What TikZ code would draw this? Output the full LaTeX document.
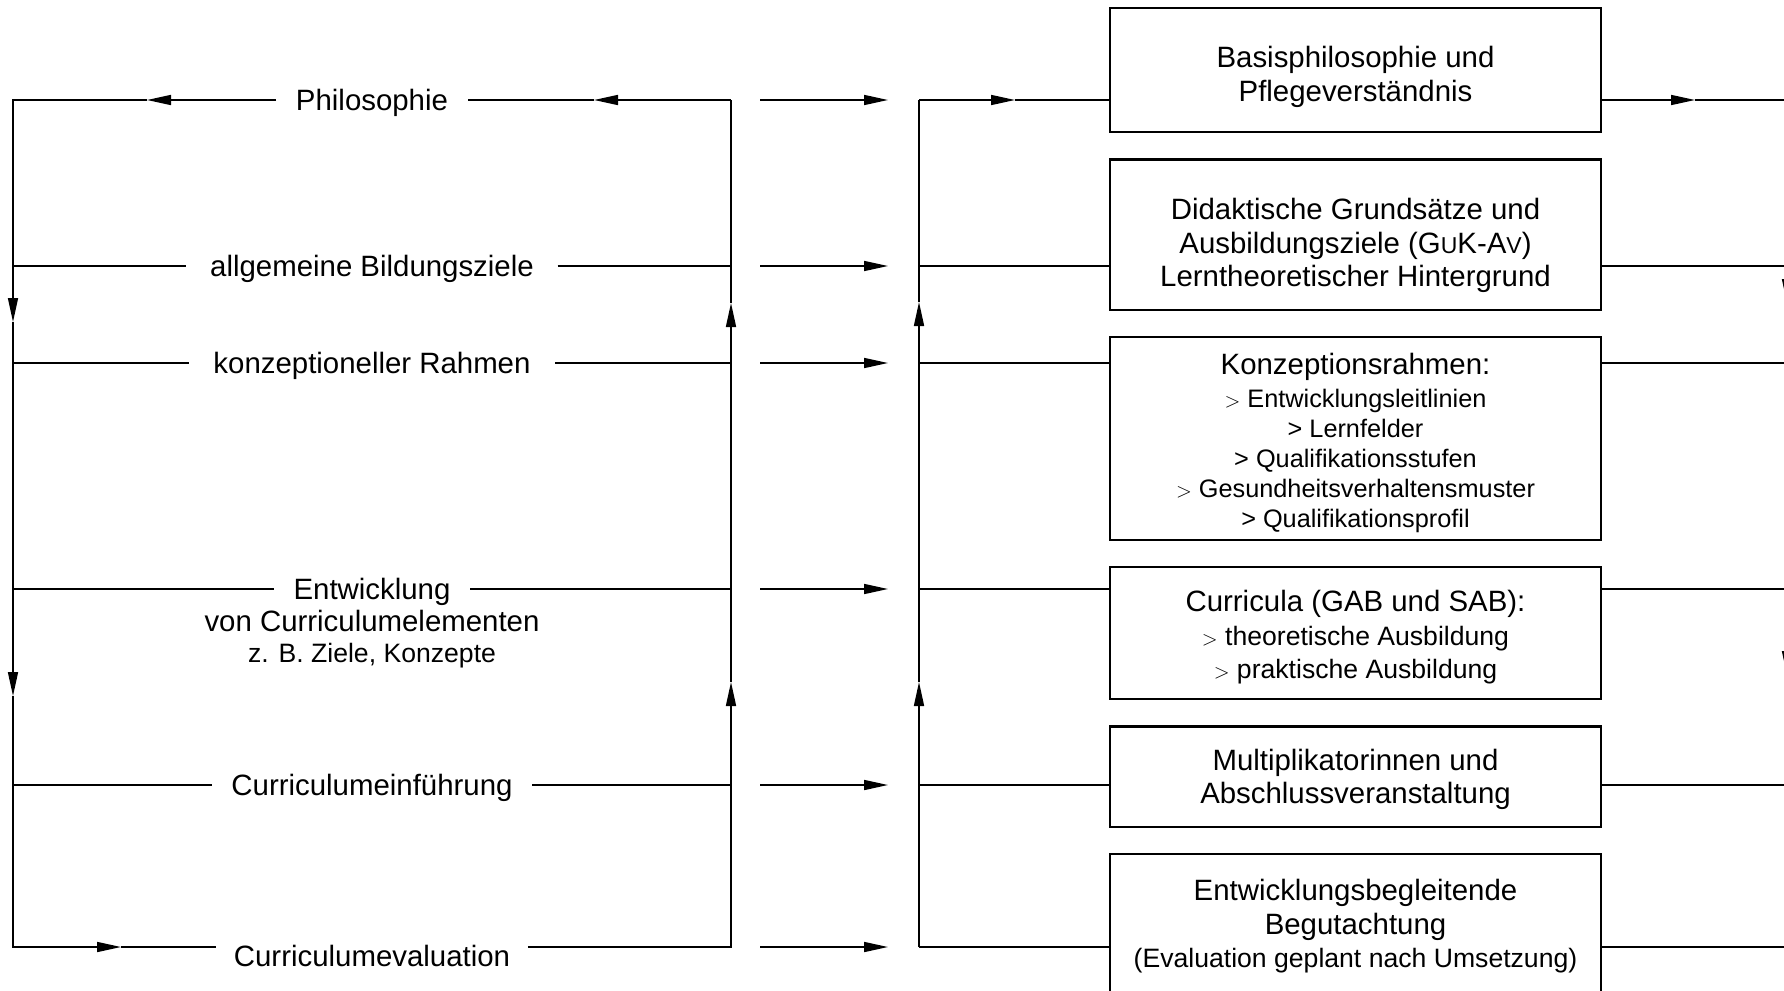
\documentclass[tikz,border=0pt]{standalone}
\usepackage{fontspec}
\setmainfont{Liberation Sans}
\usetikzlibrary{positioning,arrows.meta}

\newcommand\bigsz{\fontsize{29.4}{33.5}\selectfont}
\newcommand\midsz{\fontsize{26.6}{33.5}\selectfont}
\newcommand\smallsz{\fontsize{25.3}{30}\selectfont}
\newcommand\sgt{{\fontsize{21}{21}\selectfont$>$}}

\begin{document}
\begin{tikzpicture}[x=1pt, y=-1pt, line width=1.6pt, node distance = 25pt,
>={Triangle[length=24pt,width=10pt]},
stage/.style ={inner xsep=19pt, inner ysep=0pt, text height=21pt, text depth=0pt, font=\bigsz},
block/.style ={draw, line width=2.2pt, minimum width=491pt, align=center, inner sep=0pt, font=\bigsz}]
\useasboundingbox (0,0) rectangle (1784,990);

% phases on the left
\node[stage] (phil) at (372,100) {Philosophie};
\node[stage, inner xsep=23pt] (ziele) at (372,266) {allgemeine Bildungsziele};
\node[stage, inner xsep=24pt] (rahmen) at (372,363) {konzeptioneller Rahmen};
\node[stage] (entw) at (372,589) {Entwicklung};
\node[stage] (entw2) at (372,621) {von Curriculumelementen};
\node[stage, font=\midsz, text height=19pt] (entw3) at (372,653) {z. B. Ziele, Konzepte};
\node[stage] (einf) at (372,785) {Curriculumeinführung};
\node[stage, inner xsep=17pt] (eval) at (372,956) {Curriculumevaluation};

% results on the right
\node[block, minimum height=124.5pt] (b1) at (1355.5,70) {\rule{0pt}{35.5pt}Basisphilosophie und\\Pflegeverständnis};
\node[block, minimum height=150.5pt, below = of b1] (b2) {\rule{0pt}{43pt}Didaktische Grundsätze und\\Ausbildungsziele (G{\fontsize{23}{23}\selectfont U}K-A{\fontsize{23}{23}\selectfont V})\\Lerntheoretischer Hintergrund};
\node[block, minimum height=202.5pt, below = of b2, font=\smallsz] (b3) {{\bigsz\rule{0pt}{30.5pt}Konzeptionsrahmen:}\\[3pt]\sgt{} Entwicklungsleitlinien\\> Lernfelder\\> Qualifikationsstufen\\\sgt{} Gesundheitsverhaltensmuster\\> Qualifikationsprofil};
\node[block, minimum height=132.5pt, below = of b3] (b4) {\rule{0pt}{30pt}Curricula (GAB und SAB):\\{\midsz\sgt{} theoretische Ausbildung}\\{\midsz\sgt{} praktische Ausbildung}};
\node[block, minimum height=100.5pt, below = of b4] (b5) {\rule{0pt}{26pt}Multiplikatorinnen und\\Abschlussveranstaltung};
\node[block, minimum height=140pt, below = of b5] (b6) {\rule{0pt}{25pt}Entwicklungsbegleitende\\Begutachtung\\{\midsz (Evaluation geplant nach Umsetzung)}};

% rails
\coordinate (L1) at (13,100);  \coordinate (M1) at (731,100);  \coordinate (R1) at (919,100);  \coordinate (E1) at (1784,100);
\coordinate (L2) at (13,266);  \coordinate (M2) at (731,266);  \coordinate (R2) at (919,266);  \coordinate (E2) at (1784,266);
\coordinate (L3) at (13,363);  \coordinate (M3) at (731,363);  \coordinate (R3) at (919,363);  \coordinate (E3) at (1784,363);
\coordinate (L4) at (13,589);  \coordinate (M4) at (731,589);  \coordinate (R4) at (919,589);  \coordinate (E4) at (1784,589);
\coordinate (L5) at (13,785);  \coordinate (M5) at (731,785);  \coordinate (R5) at (919,785);  \coordinate (E5) at (1784,785);
\coordinate (L6) at (13,947);  \coordinate (M6) at (731,947);  \coordinate (R6) at (919,947);  \coordinate (E6) at (1784,947);
\coordinate (V1) at (1787,100); \coordinate (V6) at (1787,947);

% arrow tips on the rails
\coordinate (pa) at (147,100); \coordinate (pm) at (594,100); \coordinate (la) at (121,947);
\coordinate (ld1) at (13,322); \coordinate (ld2) at (13,696);
\coordinate (mu1) at (731,303); \coordinate (mu2) at (731,682);
\coordinate (ru1) at (919,302); \coordinate (ru2) at (919,682);
\coordinate (ra) at (1015,100); \coordinate (ea) at (1695,100);
\coordinate (vd1) at (1787,303); \coordinate (vd2) at (1787,675);

% left loop
\draw[->] (phil.west) -- (pa);
\draw[->] (pa) -- (L1) -- (ld1);
\draw[->] (ld1) -- (ld2);
\draw[->] (ld2) -- (L6) -- (la);
\draw (la) -- (la -| eval.west);
\draw (L2) -- (ziele.west);
\draw (L3) -- (rahmen.west);
\draw (L4) -- (entw.west);
\draw (L5) -- (einf.west);

\draw[->] (M1) -- (pm);
\draw (pm) -- (phil.east);
\draw[->] (M6 -| eval.east) -- (M6) -- (mu2);
\draw[->] (mu2) -- (mu1);
\draw (mu1) -- (M1);
\draw (ziele.east) -- (M2);
\draw (rahmen.east) -- (M3);
\draw (entw.east) -- (M4);
\draw (einf.east) -- (M5);

% arrows in between
\coordinate[right = 29pt of M1] (s1); \coordinate[right = 157pt of M1] (t1);
\coordinate[right = 29pt of M2] (s2); \coordinate[right = 157pt of M2] (t2);
\coordinate[right = 29pt of M3] (s3); \coordinate[right = 157pt of M3] (t3);
\coordinate[right = 29pt of M4] (s4); \coordinate[right = 157pt of M4] (t4);
\coordinate[right = 29pt of M5] (s5); \coordinate[right = 157pt of M5] (t5);
\coordinate[right = 29pt of M6] (s6); \coordinate[right = 157pt of M6] (t6);
\draw[->] (s1) -- (t1);
\draw[->] (s2) -- (t2);
\draw[->] (s3) -- (t3);
\draw[->] (s4) -- (t4);
\draw[->] (s5) -- (t5);
\draw[->] (s6) -- (t6);

% right loop into the boxes
\draw[->] (R6) -- (ru2);
\draw[->] (ru2) -- (ru1);
\draw (ru1) -- (R1);
\draw[->] (R1) -- (ra);
\draw (ra) -- (b1.west |- R1);
\draw (R2) -- (b2.west |- R2);
\draw (R3) -- (b3.west |- R3);
\draw (R4) -- (b4.west |- R4);
\draw (R5) -- (b5.west |- R5);
\draw (R6) -- (b6.west |- R6);

% out of the boxes
\draw[->] (b1.east |- E1) -- (ea);
\draw (ea) -- (E1);
\draw (b2.east |- E2) -- (E2);
\draw (b3.east |- E3) -- (E3);
\draw (b4.east |- E4) -- (E4);
\draw (b5.east |- E5) -- (E5);
\draw (b6.east |- E6) -- (E6);
\draw[->] (V1) -- (vd1);
\draw[->] (vd1) -- (vd2);
\draw (vd2) -- (V6);
\end{tikzpicture}
\end{document}
